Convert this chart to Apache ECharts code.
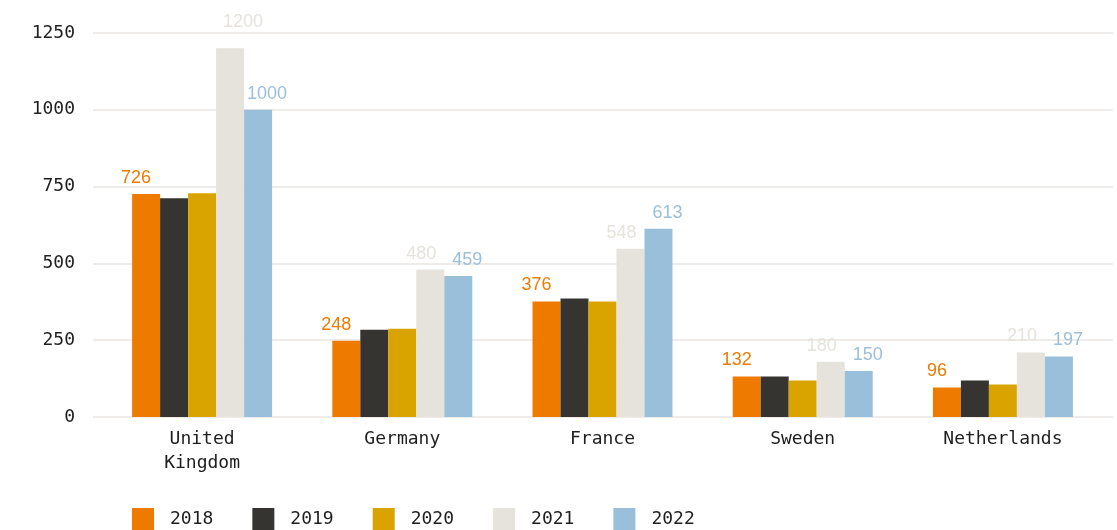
<!DOCTYPE html>
<html lang="en">
<head>
    <meta charset="UTF-8">
    <title>Bar chart by country and year</title>
    <script src="https://cdn.jsdelivr.net/npm/echarts@6.0.0/dist/echarts.min.js"></script>
    <style>
        html, body { margin: 0; padding: 0; background: #fff; }
    </style>
</head>
<body>
    <div id="main" style="width: 1117px; height: 530px;"></div>

    <script>
        // categories and series values
        var countries = ['United Kingdom', 'Germany', 'France', 'Sweden', 'Netherlands'];
        var years = ['2018', '2019', '2020', '2021', '2022'];
        var v2018 = [726, 248, 376, 132, 96];
        var v2019 = [712, 284, 386, 132, 119];
        var v2020 = [728, 287, 376, 119, 106];
        var v2021 = [1200, 480, 548, 180, 210];
        var v2022 = [1000, 459, 613, 150, 197];
        var yTicks = [0, 250, 500, 750, 1000, 1250];

        var colors = ['#ee7b00', '#353430', '#d9a300', '#e6e2dc', '#9abfdb'];
        var mono = '"DejaVu Sans Mono", "Liberation Mono", monospace';
        var sans = '"Liberation Sans", Arial, sans-serif';

        function labelOpt(color, dx) {
            return {
                show: true,
                position: 'top',
                distance: 7,
                offset: [dx, 0],
                color: color,
                fontFamily: sans,
                fontSize: 18
            };
        }

        function barSeries(i, values, dx) {
            return {
                name: years[i],
                type: 'bar',
                xAxisIndex: 1,
                yAxisIndex: 1,
                barWidth: 28,
                barGap: '0%',
                itemStyle: { color: colors[i] },
                label: dx === null ? { show: false } : labelOpt(colors[i], dx),
                data: values
            };
        }

        var s2021 = barSeries(3, v2021, -9);
        // the 1200 label sits up and to the right of its bar
        s2021.data = v2021.map(function (v, k) {
            return k === 0 ? { value: v, label: { offset: [13, -10] } } : v;
        });

        var chart = echarts.init(document.getElementById('main'));
        chart.setOption({
            animation: false,
            color: colors,
            grid: [
                { left: 93, right: 4, top: 33, bottom: 113 },
                { left: 102, right: 14, top: 33, bottom: 113 }
            ],
            legend: {
                data: years,
                left: 127,
                top: 503,
                icon: 'rect',
                itemWidth: 22,
                itemHeight: 22,
                itemGap: 39,
                textStyle: {
                    fontFamily: mono,
                    fontSize: 18,
                    color: '#1e1e1e',
                    padding: [0, 0, 0, 11]
                }
            },
            xAxis: [
                { type: 'value', gridIndex: 0, min: 0, max: 1, show: false },
                {
                    type: 'category',
                    gridIndex: 1,
                    data: countries,
                    axisLine: { show: false },
                    axisTick: { show: false },
                    axisLabel: {
                        interval: 0,
                        margin: 10,
                        lineHeight: 24,
                        fontFamily: mono,
                        fontSize: 18,
                        color: '#1e1e1e',
                        formatter: function (v) { return v.replace(' ', '\n'); }
                    }
                }
            ],
            yAxis: [
                {
                    type: 'value',
                    gridIndex: 0,
                    min: yTicks[0],
                    max: yTicks[yTicks.length - 1],
                    interval: yTicks[1] - yTicks[0],
                    axisLine: { show: false },
                    axisTick: { show: false },
                    splitLine: { lineStyle: { color: '#e8e5e0', width: 1.5 } },
                    axisLabel: {
                        margin: 18,
                        fontFamily: mono,
                        fontSize: 18,
                        color: '#1e1e1e',
                        formatter: function (v) { return String(v); }
                    }
                },
                {
                    type: 'value',
                    gridIndex: 1,
                    min: yTicks[0],
                    max: yTicks[yTicks.length - 1],
                    show: false
                }
            ],
            series: [
                barSeries(0, v2018, -10),
                barSeries(1, v2019, null),
                barSeries(2, v2020, null),
                s2021,
                barSeries(4, v2022, 9)
            ]
        });
    </script>
</body>
</html>
